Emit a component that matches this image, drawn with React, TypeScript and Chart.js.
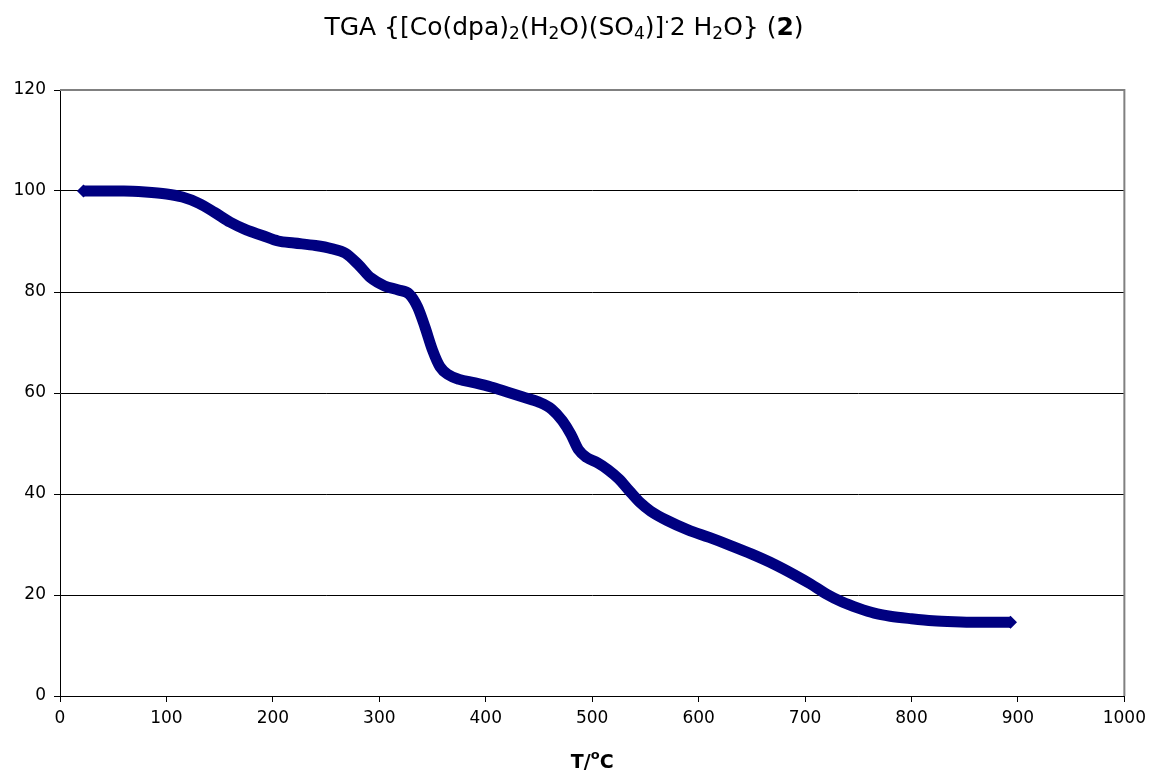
import React, { useEffect, useRef } from "react";
import { Chart, registerables } from "chart.js";

Chart.register(...registerables);

// Temperature (°C) and remaining mass (%)
const temperatures = [
  22, 40, 60, 80, 100, 115, 130, 145, 160, 175, 190, 205, 220, 240, 255, 268, 280, 292, 305, 318,
  328, 336, 343, 350, 357, 365, 375, 390, 405, 420, 435, 450, 462, 472, 480, 487, 495, 505, 515,
  525, 535, 545, 555, 570, 590, 610, 630, 650, 670, 690, 705, 720, 735, 750, 765, 780, 800, 820,
  840, 860, 880, 893,
];
const massPercent = [
  100, 100, 100, 99.8, 99.4, 98.8, 97.6, 95.8, 93.8, 92.3, 91.2, 90.1, 89.7, 89.2, 88.6, 87.7,
  85.5, 82.8, 81.2, 80.4, 79.6, 77, 73, 68.5, 65.2, 63.6, 62.7, 62, 61.2, 60.2, 59.2, 58.2, 56.8,
  54.5, 51.8, 48.8, 47.2, 46.2, 44.8, 43, 40.6, 38.3, 36.6, 34.8, 32.9, 31.4, 29.8, 28.1, 26.2,
  24, 22.2, 20.2, 18.6, 17.4, 16.4, 15.8, 15.3, 14.9, 14.7, 14.6, 14.6, 14.6,
];
const xTicks = [0, 100, 200, 300, 400, 500, 600, 700, 800, 900, 1000];
const yTicks = [0, 20, 40, 60, 80, 100, 120];

// Title pieces: [text, kind]
const titleParts: [string, string][] = [
  ["TGA {[Co(dpa)", "n"],
  ["2", "sub"],
  ["(H", "n"],
  ["2", "sub"],
  ["O)(SO", "n"],
  ["4", "sub"],
  [")]", "n"],
  [".", "sup"],
  ["2 H", "n"],
  ["2", "sub"],
  ["O} (", "n"],
  ["2", "bold"],
  [")", "n"],
];
const xTitleParts: [string, string][] = [
  ["T/", "bold"],
  ["o", "supbold"],
  ["C", "bold"],
];

const FONT = "'DejaVu Sans', Verdana, sans-serif";

function drawRich(ctx: CanvasRenderingContext2D, parts: [string, string][], cx: number, cy: number, size: number) {
  const fontFor = (kind: string) => {
    if (kind === "sub" || kind === "sup") return `${Math.round(size * 0.68)}px ${FONT}`;
    if (kind === "supbold") return `bold ${Math.round(size * 0.68)}px ${FONT}`;
    if (kind === "bold") return `bold ${size}px ${FONT}`;
    return `${size}px ${FONT}`;
  };
  const offset = (kind: string) => {
    if (kind === "sub") return size * 0.28;
    if (kind === "sup" || kind === "supbold") return -size * 0.38;
    return 0;
  };
  let total = 0;
  for (const [t, k] of parts) {
    ctx.font = fontFor(k);
    total += ctx.measureText(t).width;
  }
  let x = cx - total / 2;
  ctx.save();
  ctx.fillStyle = "#000";
  ctx.textBaseline = "middle";
  ctx.textAlign = "left";
  for (const [t, k] of parts) {
    ctx.font = fontFor(k);
    ctx.fillText(t, x, cy + offset(k));
    x += ctx.measureText(t).width;
  }
  ctx.restore();
}

const decorPlugin = {
  id: "decor",
  afterDraw(chart: any) {
    const { ctx, chartArea } = chart;
    ctx.save();
    ctx.strokeStyle = "#808080";
    ctx.lineWidth = 2;
    ctx.beginPath();
    ctx.moveTo(chartArea.left, chartArea.top);
    ctx.lineTo(chartArea.right, chartArea.top);
    ctx.lineTo(chartArea.right, chartArea.bottom);
    ctx.stroke();
    ctx.restore();
    drawRich(ctx, titleParts, 564, 28, 25);
    drawRich(ctx, xTitleParts, (chartArea.left + chartArea.right) / 2, 763, 19);
  },
};

export default function App() {
  const ref = useRef<HTMLCanvasElement>(null);
  useEffect(() => {
    document.body.style.margin = "0";
    const canvas = ref.current!;
    const data = temperatures.map((t, i) => ({ x: t, y: massPercent[i] }));
    const last = data.length - 1;
    const chart = new Chart(canvas, {
      type: "line",
      data: {
        datasets: [
          {
            data,
            borderColor: "#000080",
            backgroundColor: "#000080",
            borderWidth: 11,
            tension: 0.4,
            cubicInterpolationMode: "monotone",
            pointStyle: "rectRot",
            pointRadius: (c: any) => (c.dataIndex === 0 || c.dataIndex === last ? 6.5 : 0),
            pointBorderWidth: 0,
            fill: false,
          },
        ],
      },
      options: {
        responsive: false,
        animation: false,
        devicePixelRatio: 1,
        layout: { padding: { top: 90, right: 26, left: 0, bottom: 0 } },
        plugins: { legend: { display: false }, title: { display: false }, tooltip: { enabled: false } },
        scales: {
          x: {
            type: "linear",
            min: 0,
            max: 1000,
            afterBuildTicks: (s: any) => {
              s.ticks = xTicks.map((v) => ({ value: v }));
            },
            afterFit: (s: any) => {
              s.height = 80;
            },
            ticks: {
              color: "#000",
              font: { family: FONT, size: 17 },
              padding: 6,
              maxRotation: 0,
              callback: (v: any) => String(v),
            },
            grid: { drawOnChartArea: false, drawTicks: true, tickLength: 6, color: "#000" },
            border: { color: "#000", width: 1 },
          },
          y: {
            type: "linear",
            min: 0,
            max: 120,
            afterBuildTicks: (s: any) => {
              s.ticks = yTicks.map((v) => ({ value: v }));
            },
            afterFit: (s: any) => {
              s.width = 60;
            },
            ticks: { color: "#000", font: { family: FONT, size: 17 }, padding: 8, callback: (v: any) => String(v) },
            grid: {
              color: (c: any) => (c.tick && c.tick.value === 120 ? "rgba(0,0,0,0)" : "#000"),
              tickColor: "#000",
              tickLength: 6,
              lineWidth: 1,
            },
            border: { color: "#000", width: 1 },
          },
        },
      },
      plugins: [decorPlugin],
    } as any);
    return () => chart.destroy();
  }, []);
  return <canvas ref={ref} width={1152} height={776} style={{ display: "block", width: 1152, height: 776 }} />;
}
